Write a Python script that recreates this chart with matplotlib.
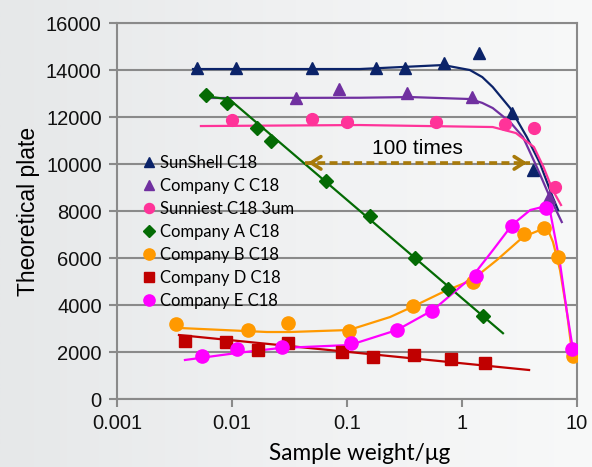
import matplotlib.pyplot as plt
import numpy as np

# --- data ---
# SunShell C18
ss_x = [0.00496, 0.0108, 0.0497, 0.179, 0.319, 0.70, 1.41, 2.72, 4.14]
ss_y = [14084, 14084, 14084, 14084, 14084, 14297, 14723, 12170, 9744]
ss_fx = [0.00458, 0.129, 0.685, 1.17, 1.5, 1.85, 2.62, 3.66, 4.75, 6.14, 6.84]
ss_fy = [14042, 14042, 14212, 14000, 13700, 13276, 12382, 11148, 10042, 8595, 8042]

# Company C C18
cc_x = [0.0361, 0.0851, 0.333, 1.22, 5.71]
cc_y = [12808, 13191, 13020, 12850, 8595]
cc_fx = [0.0057, 0.129, 0.353, 1.17, 1.5, 1.85, 2.62, 3.39, 4.47, 5.80, 7.37]
cc_fy = [12808, 12820, 12850, 12766, 12600, 12382, 11786, 11148, 9872, 8595, 7531]

# Sunniest C18 3um
sn_x = [0.010, 0.0497, 0.100, 0.594, 2.37, 4.22, 6.44]
sn_y = [11872, 11914, 11787, 11787, 11701, 11531, 9021]
sn_fx = [0.00537, 0.129, 1.85, 2.94, 4.22, 5.11, 6.14, 7.26]
sn_fy = [11616, 11659, 11574, 11318, 10723, 9872, 8893, 8255]

# Company A C18
ca_x = [0.00594, 0.00906, 0.0165, 0.0218, 0.0657, 0.158, 0.390, 0.755, 1.52]
ca_y = [12936, 12595, 11531, 10978, 9276, 7787, 6000, 4681, 3532]
ca_fx = [0.0056, 0.0095, 2.27]
ca_fy = [12900, 12750, 2800]

# Company B C18
cb_x = [0.00326, 0.01377, 0.0307, 0.104, 0.375, 1.25, 3.46, 5.16, 6.84, 9.23]
cb_y = [3191, 2936, 3234, 2893, 3957, 4978, 7020, 7276, 6042, 1830]
cb_fx = [0.00353, 0.0201, 0.0319, 0.104, 0.237, 0.383, 0.684, 1.22, 2.01,
         3.39, 4.76, 5.60, 6.18, 7.11, 8.19, 9.05]
cb_fy = [3021, 2851, 2851, 2936, 3489, 3957, 4553, 5063, 5914,
         6893, 7191, 7191, 6680, 5489, 3659, 1957]

# Company D C18
cd_x = [0.0039, 0.00887, 0.0168, 0.0307, 0.0906, 0.168, 0.383, 0.80, 1.58]
cd_y = [2468, 2425, 2085, 2383, 2000, 1787, 1872, 1702, 1532]
cd_fx = [0.00346, 3.83]
cd_fy = [2723, 1234]

# Company E C18
ce_x = [0.00548, 0.0110, 0.0272, 0.108, 0.272, 0.548, 1.32, 2.72, 5.37, 9.05]
ce_y = [1830, 2128, 2213, 2383, 2936, 3745, 5234, 7361, 8127, 2128]
ce_fx = [0.0039, 0.0110, 0.0262, 0.106, 0.272, 0.560, 1.22, 1.86, 2.72,
         3.92, 4.98, 5.87, 7.11, 8.19, 9.23]
ce_fy = [1660, 1957, 2170, 2298, 2936, 3787, 5191, 6340, 7404,
         8042, 8170, 7914, 5787, 3659, 2085]

arrow_x = [0.0432, 3.9]
arrow_y = 10050
arrow_text = '100 times'

series = [
    ('SunShell C18', ss_x, ss_y, ss_fx, ss_fy, '#0b2369', '^', 9),
    ('Company C C18', cc_x, cc_y, cc_fx, cc_fy, '#7030a0', '^', 9),
    ('Sunniest C18 3um', sn_x, sn_y, sn_fx, sn_fy, '#ff3399', 'o', 8.5),
    ('Company A C18', ca_x, ca_y, ca_fx, ca_fy, '#046b04', 'D', 7),
    ('Company B C18', cb_x, cb_y, cb_fx, cb_fy, '#ff9900', 'o', 9.5),
    ('Company D C18', cd_x, cd_y, cd_fx, cd_fy, '#c00000', 's', 8.5),
    ('Company E C18', ce_x, ce_y, ce_fx, ce_fy, '#ff00ff', 'o', 9.5),
]

fig = plt.figure(figsize=(5.92, 4.67), dpi=100)

# soft grey slide background
bg = fig.add_axes([0, 0, 1, 1], zorder=-10)
grad = np.linspace(0, 1, 256).reshape(1, -1)
bg.imshow(grad, aspect='auto', cmap=plt.matplotlib.colors.LinearSegmentedColormap.from_list(
    'bg', ['#e6e8e9', '#f0f1f2', '#f8f9f9']), extent=[0, 1, 0, 1])
bg.axis('off')

ax = fig.add_axes([0.1976, 0.1456, 0.7771, 0.8051])
ax.patch.set_alpha(0)

handles = []
for name, x, y, fx, fy, c, m, ms in series:
    ax.plot(fx, fy, '-', color=c, lw=1.6, zorder=3)
    h, = ax.plot(x, y, linestyle='none', marker=m, ms=ms, color=c,
                 markeredgecolor=c, zorder=4, label=name)
    handles.append(h)

ax.set_xscale('log')
ax.set_xlim(0.001, 10)
ax.set_ylim(0, 16000)
ax.set_yticks(np.arange(0, 16001, 2000))
ax.set_xticks([0.001, 0.01, 0.1, 1, 10])
ax.set_xticklabels(['0.001', '0.01', '0.1', '1', '10'])
ax.minorticks_off()
ax.yaxis.grid(True, color='#8a8a8a', lw=1.5)
ax.set_axisbelow(True)
for s in ax.spines.values():
    s.set_color('#8a8a8a')
    s.set_linewidth(1.5)
ax.tick_params(axis='both', colors='#8a8a8a', width=1.5, length=6,
               labelsize=14.5, labelcolor='#111111', pad=5)
for lab in ax.get_xticklabels() + ax.get_yticklabels():
    lab.set_fontfamily('Liberation Sans')

ax.set_ylabel('Theoretical plate', fontsize=16.5, family='Liberation Sans')
ax.yaxis.set_label_coords(-0.168, 0.5)
ax.set_xlabel('Sample weight/\u03bcg', fontsize=16.3, family='Lato')
ax.xaxis.set_label_coords(0.528, -0.118)

# arrow "100 times"
ac = '#a87a0a'
ax.plot(arrow_x, [arrow_y, arrow_y], color=ac, lw=2.6, ls=(0, (2.2, 1.2)),
        zorder=5)
ax.annotate('', xy=(arrow_x[1], arrow_y), xytext=(arrow_x[1] * 0.8, arrow_y),
            arrowprops=dict(arrowstyle='->,head_length=0.7,head_width=0.45',
                            color=ac, lw=2.6), zorder=5)
ax.annotate('', xy=(arrow_x[0], arrow_y), xytext=(arrow_x[0] * 1.25, arrow_y),
            arrowprops=dict(arrowstyle='->,head_length=0.7,head_width=0.45',
                            color=ac, lw=2.6), zorder=5)
ax.text(np.sqrt(arrow_x[0] * arrow_x[1]), arrow_y + 200, arrow_text,
        ha='center', va='bottom', fontsize=15, family='Liberation Sans')

leg = ax.legend(handles=handles, loc='upper left',
                bbox_to_anchor=(0.04, 0.667), frameon=False,
                prop={'family': 'Lato', 'size': 12}, handlelength=0.8,
                handletextpad=0.3, labelspacing=0.42, borderaxespad=0,
                markerscale=0.85)

fig.savefig('out.png', dpi=100, facecolor=fig.get_facecolor())
